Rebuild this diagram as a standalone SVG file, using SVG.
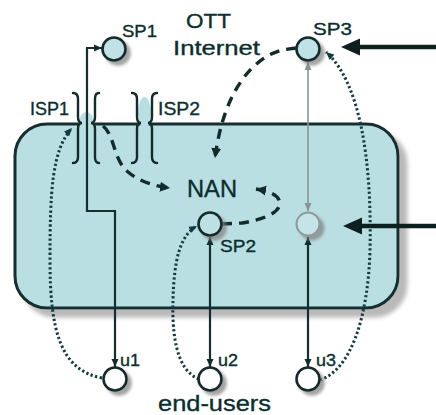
<svg xmlns="http://www.w3.org/2000/svg" width="436" height="415" viewBox="0 0 436 415">
<defs>
<style>
.lbl{font-family:"Liberation Sans",Arial,sans-serif;fill:#0b2e2e;stroke:#0b2e2e;stroke-width:0.35;}
.ln{fill:none;stroke:#152e2e;stroke-width:2.2;}
.dot{fill:none;stroke:#143c3c;stroke-width:3;stroke-dasharray:2.3 2.4;}
.dash{fill:none;stroke:#132b2b;stroke-width:3.4;stroke-dasharray:10 7;}
.brace{fill:none;stroke:#132b2b;stroke-width:2.4;stroke-linecap:round;}
.node{stroke:#142c2c;stroke-width:2.6;}
</style>
<filter id="sh" x="-20%" y="-20%" width="150%" height="150%">
<feDropShadow dx="4" dy="4" stdDeviation="1.8" flood-color="#7d7d7d" flood-opacity="0.7"/>
</filter>
<filter id="shr" x="-10%" y="-10%" width="130%" height="130%">
<feDropShadow dx="8" dy="8" stdDeviation="2" flood-color="#a8a8a8" flood-opacity="0.8"/>
</filter>
<marker id="ah" markerWidth="8" markerHeight="8" refX="8" refY="4" orient="auto-start-reverse" markerUnits="userSpaceOnUse"><path d="M0,0.5 L8,4 L0,7.5z" fill="#142c2c"/></marker>
<marker id="ahg" markerWidth="8" markerHeight="8" refX="8" refY="4" orient="auto-start-reverse" markerUnits="userSpaceOnUse"><path d="M0,0.5 L8,4 L0,7.5z" fill="#8a9494"/></marker>
<marker id="ahd" markerWidth="9" markerHeight="9" refX="8" refY="4.5" orient="auto" markerUnits="userSpaceOnUse"><path d="M0,1 L8,4.5 L0,8z" fill="#143c3c"/></marker>
<marker id="ahb" markerWidth="11" markerHeight="11" refX="10" refY="5.5" orient="auto" markerUnits="userSpaceOnUse"><path d="M0,0.5 L10,5.5 L0,10.5z" fill="#132b2b"/></marker>
</defs>

<g id="nan-domain">
<rect x="15" y="124" width="383" height="184" rx="32" ry="32" fill="#b9dfe3" stroke="#152e2e" stroke-width="3" filter="url(#shr)"/>
<ellipse cx="86.5" cy="125" rx="8" ry="13" fill="#b9dfe3"/>
<ellipse cx="144.5" cy="113" rx="6.5" ry="16" fill="#b9dfe3"/>
</g>

<g id="isp1">
<path class="brace" d="M73 93 Q78 93 78 99 L78 117 Q78 123 82 123 Q78 123 78 129 L78 157 Q78 163 73 163"/>
<path class="brace" d="M99 93 Q95 93 95 99 L95 117 Q95 123 91 123 Q95 123 95 129 L95 157 Q95 163 99 163"/>
<text class="lbl" x="30" y="115" font-size="18" textLength="39" lengthAdjust="spacingAndGlyphs">ISP1</text>
</g>
<g id="isp2">
<path class="brace" d="M132 93 Q137 93 137 99 L137 117 Q137 123 141 123 Q137 123 137 129 L137 157 Q137 163 132 163"/>
<path class="brace" d="M157 93 Q152 93 152 99 L152 117 Q152 123 148 123 Q152 123 152 129 L152 157 Q152 163 157 163"/>
<text class="lbl" x="158" y="115" font-size="18" textLength="42" lengthAdjust="spacingAndGlyphs">ISP2</text>
</g>

<g id="connectors">
<path class="ln" d="M102 48 L87 48 L87 211 L115 211 L115 367" marker-start="url(#ah)" marker-end="url(#ah)"/>
<path class="ln" d="M210 237 L210 367" marker-start="url(#ah)" marker-end="url(#ah)"/>
<path class="ln" d="M308 237 L308 367" marker-start="url(#ah)" marker-end="url(#ah)"/>
<path fill="none" stroke="#8a9494" stroke-width="1.6" d="M308 62 L308 211" marker-start="url(#ahg)" marker-end="url(#ahg)"/>
<path class="dot" d="M102 378 C60 370 50 330 50 260 C50 190 52 150 72 128" marker-end="url(#ahd)"/>
<path class="dot" d="M199 379 C175 370 172 330 173 300 C174 260 180 235 197 226" marker-end="url(#ahd)"/>
<path class="dot" d="M320 380 C350 370 368 320 370 250 C372 160 360 82 326 52" marker-end="url(#ahd)"/>
<path class="dash" d="M296 48 L282 50 C255 57 224 88 215 158" marker-end="url(#ahb)"/>
<path class="dash" d="M103 126 C115 135 113 160 128 172 C140 182 155 186 170 188" marker-end="url(#ahb)"/>
<path class="dash" d="M222 224 L242 223 C262 220 284 212 279 200 C276 194 268 191 256 189" marker-end="url(#ahb)"/>
<path d="M436 47 L358 47" stroke="#0d1f1f" stroke-width="4.5"/>
<path d="M341 47 L360 38.5 L360 55.5 Z" fill="#0d1f1f"/>
<path d="M436 226 L360 226" stroke="#0d1f1f" stroke-width="4.5"/>
<path d="M343 226 L362 217.5 L362 234.5 Z" fill="#0d1f1f"/>
</g>

<g id="sp1">
<circle class="node" cx="114" cy="49" r="11.5" fill="#c0e1e5" filter="url(#sh)"/>
<text class="lbl" x="122" y="37" font-size="17" textLength="35" lengthAdjust="spacingAndGlyphs">SP1</text>
</g>
<g id="ott">
<text class="lbl" x="186" y="28" font-size="21" textLength="45" lengthAdjust="spacingAndGlyphs">OTT</text>
<text class="lbl" x="173" y="55" font-size="21" textLength="87" lengthAdjust="spacingAndGlyphs">Internet</text>
</g>
<g id="sp3">
<circle class="node" cx="308" cy="49" r="11.5" fill="#c0e1e5" filter="url(#sh)"/>
<text class="lbl" x="313" y="35" font-size="17" textLength="39" lengthAdjust="spacingAndGlyphs">SP3</text>
</g>
<g id="nan">
<text class="lbl" x="187" y="197" font-size="24" textLength="50" lengthAdjust="spacingAndGlyphs">NAN</text>
</g>
<g id="sp2">
<circle class="node" cx="210" cy="224" r="11.5" fill="#bde0e4" filter="url(#sh)"/>
<text class="lbl" x="220" y="252" font-size="17" textLength="36" lengthAdjust="spacingAndGlyphs">SP2</text>
</g>
<g id="sp-faded">
<circle cx="308" cy="224" r="11.5" fill="#c6e4e7" stroke="#8e9a9a" stroke-width="2" filter="url(#sh)"/>
</g>
<g id="u1">
<circle class="node" cx="115" cy="379" r="11.5" fill="#ffffff" filter="url(#sh)"/>
<text class="lbl" x="120" y="366" font-size="17" textLength="20" lengthAdjust="spacingAndGlyphs">u1</text>
</g>
<g id="u2">
<circle class="node" cx="210" cy="379" r="11.5" fill="#ffffff" filter="url(#sh)"/>
<text class="lbl" x="218" y="366" font-size="17" textLength="20" lengthAdjust="spacingAndGlyphs">u2</text>
</g>
<g id="u3">
<circle class="node" cx="308" cy="379" r="11.5" fill="#ffffff" filter="url(#sh)"/>
<text class="lbl" x="316" y="366" font-size="17" textLength="20" lengthAdjust="spacingAndGlyphs">u3</text>
</g>
<g id="end-users">
<text class="lbl" x="158" y="411" font-size="22" textLength="113" lengthAdjust="spacingAndGlyphs">end-users</text>
</g>
</svg>
